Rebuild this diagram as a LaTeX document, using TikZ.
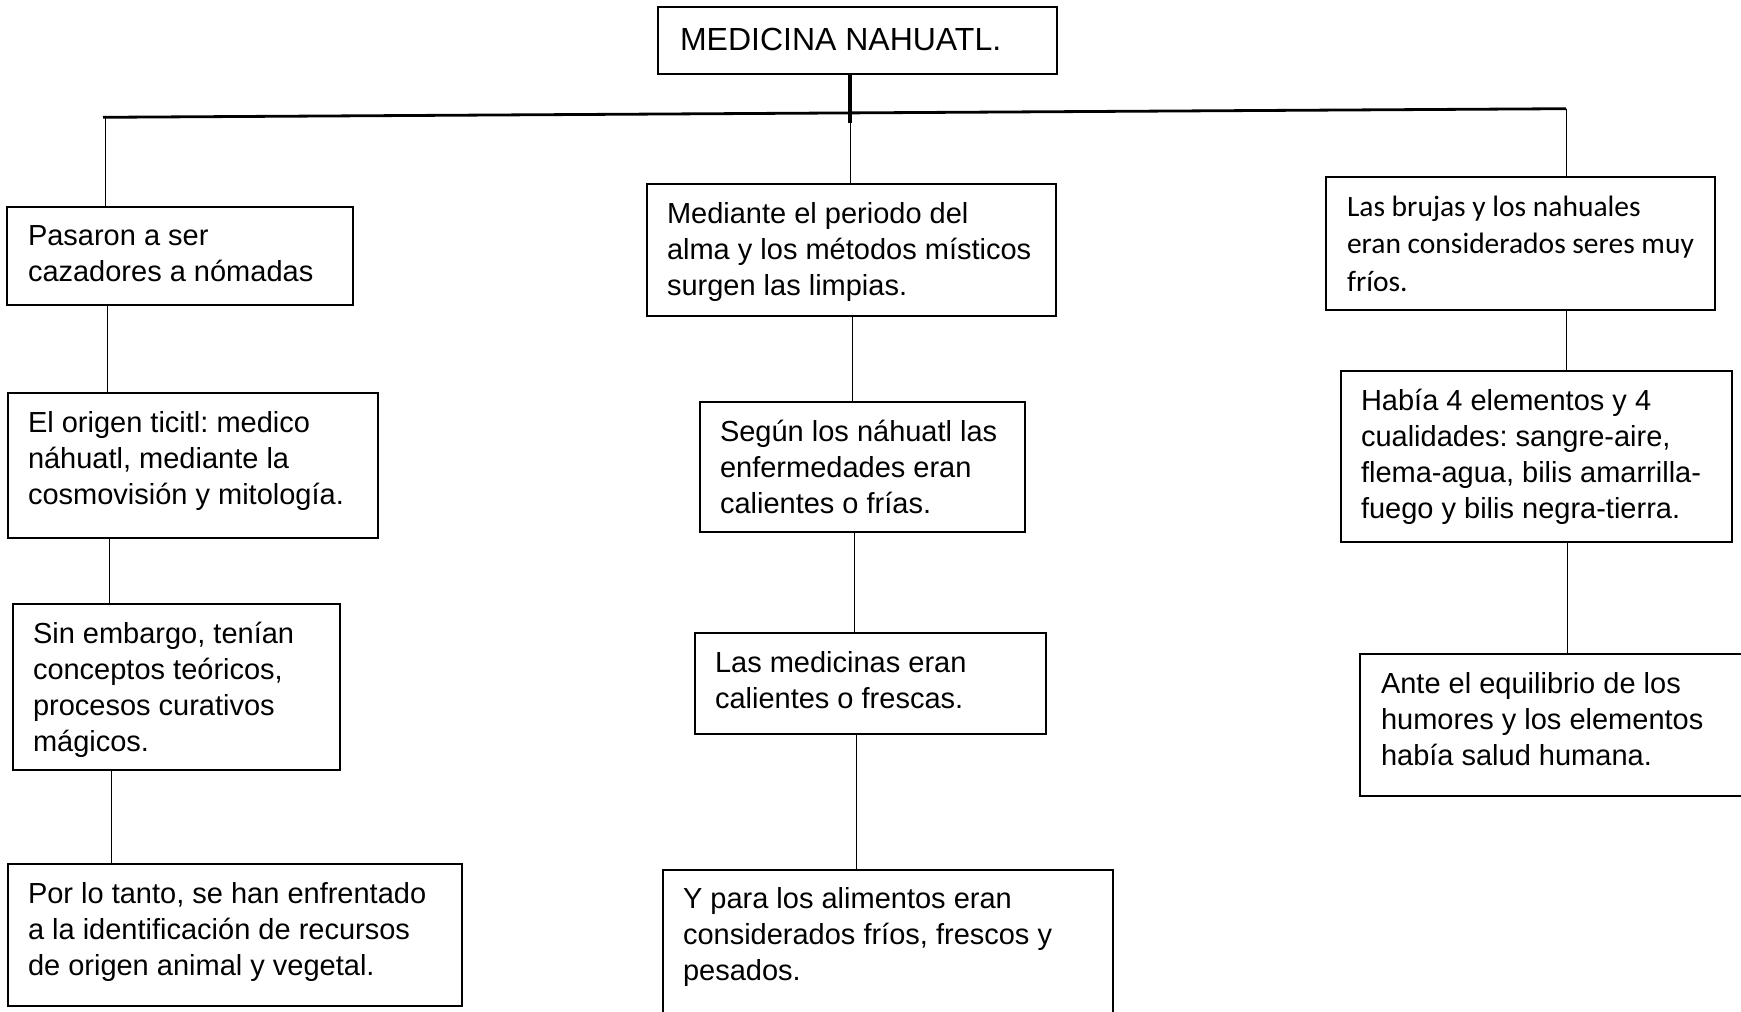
\documentclass[tikz,border=0pt]{standalone}
\usepackage{fontspec}
\setmainfont{Liberation Sans}
\newfontfamily\calfont{Carlito}
\frenchspacing
\newcommand{\bx}[5]{\node[box, minimum width={(#4-#2)*0.5pt}, minimum height={(#5-#3)*0.5pt}] (#1) at (#2,#3) {};}
\newcommand{\tx}[4]{\node[txt] (#1) at (#2,{#3-28}) {\rule{0pt}{14pt}#4};}
\begin{document}
\begin{tikzpicture}[x=0.5pt,y=-0.5pt,
  box/.style={draw=black, line width=0.65pt, anchor=north west, inner sep=0pt, outer sep=0pt, fill=white},
  txt/.style={anchor=north west, inner sep=0pt, outer sep=0pt, align=left, font=\fontsize{14.5}{18}\selectfont\frenchspacing},
  caltxt/.style={txt, font=\calfont\fontsize{14.75}{18.75}\selectfont\frenchspacing},
  titletxt/.style={txt, font=\fontsize{16}{19}\selectfont},
  link/.style={draw=black, line width=0.5pt},
  trunk/.style={draw=black, line width=1.4pt}]
\clip (0,0) rectangle (1741,1012);
\fill[white] (0,0) rectangle (1741,1012);

% boxes
\bx{T}{658}{7}{1057}{74}
\bx{b1}{7}{207}{353}{305}
\bx{b2}{647}{184}{1056}{316}
\bx{b3}{1326}{177}{1715}{310}
\bx{b4}{8}{393}{378}{538}
\bx{b5}{700}{402}{1025}{532}
\bx{b6}{1341}{371}{1732}{542}
\bx{b7}{13}{604}{340}{770}
\bx{b8}{695}{633}{1046}{734}
\bx{b9}{1360}{654}{1760}{796}
\bx{b10}{8}{864}{462}{1006}
\bx{b11}{663}{870}{1113}{1030}

% texts
\node[titletxt] (tT) at (680,{50-32}) {\rule{0pt}{16pt}MEDICINA NAHUATL.};
\tx{t1}{28}{245}{Pasaron a ser\\cazadores a nómadas}
\tx{t2}{667}{223}{Mediante el periodo del\\alma y los métodos místicos\\surgen las limpias.}
\node[caltxt] (t3) at (1347,{216-28}) {\rule{0pt}{14pt}Las brujas y los nahuales\\eran considerados seres muy\\fríos.};
\tx{t4}{28}{432}{El origen ticitl: medico\\náhuatl, mediante la\\cosmovisión y mitología.}
\tx{t5}{720}{441}{Según los náhuatl las\\enfermedades eran\\calientes o frías.}
\tx{t6}{1361}{410}{Había 4 elementos y 4\\cualidades: sangre-aire,\\flema-agua, bilis amarrilla-\\fuego y bilis negra-tierra.}
\tx{t7}{33}{643}{Sin embargo, tenían\\conceptos teóricos,\\procesos curativos\\mágicos.}
\tx{t8}{715}{672}{Las medicinas eran\\calientes o frescas.}
\tx{t9}{1381}{693}{Ante el equilibrio de los\\humores y los elementos\\había salud humana.}
\tx{t10}{28}{903}{Por lo tanto, se han enfrentado\\a la identificación de recursos\\de origen animal y vegetal.}
\tx{t11}{683}{908}{Y para los alimentos eran\\considerados fríos, frescos y\\pesados.}

% trunk
\coordinate (hL) at (103,117.3);
\coordinate (hR) at (1566,108.7);
\coordinate (jL) at (105,117.2);
\coordinate (jM) at (850,113);
\coordinate (jR) at (1566,108.7);
\draw[trunk] (hL) -- (hR);
\draw[line width=1.8pt] (T.south -| jM) -- ([yshift=-5pt]jM);
\draw[link] (jM) -- ([yshift=-8pt]jM);

% branches
\draw[link] (jL) -- (jL |- b1.north);
\draw[link] (jM) -- (jM |- b2.north);
\draw[link] (jR) -- (jR |- b3.north);

% column links
\draw[link] (b1.south -| 107,0) -- (b4.north -| 107,0);
\draw[link] (b4.south -| 109,0) -- (b7.north -| 109,0);
\draw[link] (b7.south -| 111,0) -- (b10.north -| 111,0);
\draw[link] (b2.south -| 852,0) -- (b5.north -| 852,0);
\draw[link] (b5.south -| 854,0) -- (b8.north -| 854,0);
\draw[link] (b8.south -| 856,0) -- (b11.north -| 856,0);
\draw[link] (b3.south -| 1566,0) -- (b6.north -| 1566,0);
\draw[link] (b6.south -| 1567,0) -- (b9.north -| 1567,0);
\end{tikzpicture}
\end{document}
